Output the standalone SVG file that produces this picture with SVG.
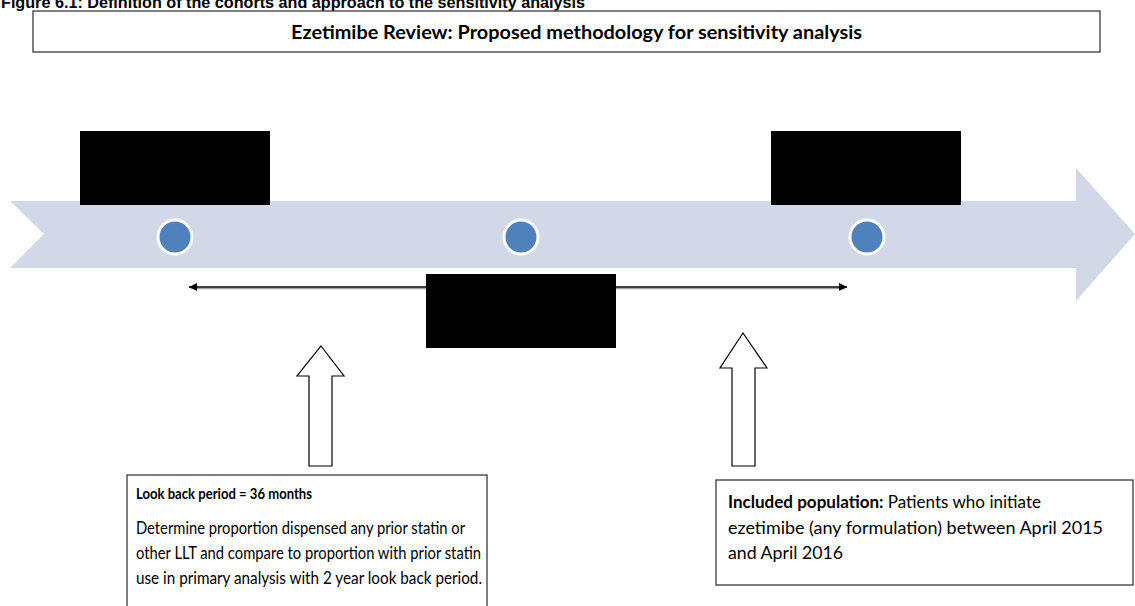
<svg xmlns="http://www.w3.org/2000/svg" width="1135" height="606" viewBox="0 0 1135 606">
<style>
.cap{font-family:"Liberation Sans",Arial,sans-serif;font-weight:bold;font-size:16px;fill:#000}
.t{font-family:Lato,"Open Sans",sans-serif;font-size:16.5px;fill:#000}
.b{font-weight:bold}
.lb{font-size:15.5px}
.hd{font-family:Lato,"Open Sans",sans-serif;font-size:19px;font-weight:bold;fill:#000}
.box{fill:#fff;stroke:#3a3a3a;stroke-width:1.3}
.blk{fill:#000}
.dot{fill:#4F81BD;stroke:#fff;stroke-width:3}
.hol{fill:#fff;stroke:#000;stroke-width:1.2}
</style>
<defs>
<marker id="ah" viewBox="0 0 10 10" refX="10" refY="5" markerWidth="10" markerHeight="8" markerUnits="userSpaceOnUse" orient="auto-start-reverse">
<path d="M0,0 L10,5 L0,10 z" fill="#000"/>
</marker>
</defs>
<rect width="1135" height="606" fill="#fff"/>
<text class="cap" x="1" y="8" textLength="584" lengthAdjust="spacingAndGlyphs">Figure 6.1: Definition of the cohorts and approach to the sensitivity analysis</text>
<g id="header">
<rect class="box" x="33" y="11" width="1067" height="41"/>
<text class="hd" x="291" y="39" textLength="571" lengthAdjust="spacingAndGlyphs">Ezetimibe Review: Proposed methodology for sensitivity analysis</text>
</g>
<g id="timeline">
<polygon points="10,201 1076,201 1076,168 1135,234 1076,301 1076,268 10,268 44,234" fill="#D1D8E8"/>
</g>
<g id="label1"><rect class="blk" x="80" y="131" width="190" height="74"/></g>
<g id="label3"><rect class="blk" x="771" y="131" width="190" height="74"/></g>
<g id="dot1"><circle class="dot" cx="175" cy="237" r="17"/></g>
<g id="dot2"><circle class="dot" cx="521" cy="237" r="17"/></g>
<g id="dot3"><circle class="dot" cx="867" cy="237" r="17"/></g>
<g id="connectors">
<line x1="191" y1="288.5" x2="845" y2="288.5" stroke="#a0a0a0" stroke-width="1.5"/>
<line x1="189" y1="287" x2="847" y2="287" stroke="#000" stroke-width="1.5" marker-start="url(#ah)" marker-end="url(#ah)"/>
<polygon class="hol" points="321,346 344,376 332,376 332,466 309,466 309,376 297,376"/>
<polygon class="hol" points="743,333 767,368 755,368 755,466 732,466 732,368 720,368"/>
</g>
<g id="label2"><rect class="blk" x="426" y="274" width="190" height="74"/></g>
<g id="lookback">
<rect class="box" x="127" y="475" width="360" height="140"/>
<text class="t b lb" x="136" y="499" textLength="176" lengthAdjust="spacingAndGlyphs">Look back period = 36 months</text>
<text class="t" x="136" y="534" textLength="329" lengthAdjust="spacingAndGlyphs">Determine proportion dispensed any prior statin or</text>
<text class="t" x="136" y="559" textLength="345" lengthAdjust="spacingAndGlyphs">other LLT and compare to proportion with prior statin</text>
<text class="t" x="136" y="584" textLength="346" lengthAdjust="spacingAndGlyphs">use in primary analysis with 2 year look back period.</text>
</g>
<g id="population">
<rect class="box" x="716" y="480" width="417" height="105"/>
<text class="t" x="728" y="508" textLength="313" lengthAdjust="spacingAndGlyphs"><tspan class="b">Included population:</tspan>  Patients who initiate</text>
<text class="t" x="728" y="534" textLength="375" lengthAdjust="spacingAndGlyphs">ezetimibe (any formulation) between April 2015</text>
<text class="t" x="728" y="559" textLength="115" lengthAdjust="spacingAndGlyphs">and April 2016</text>
</g>
</svg>
